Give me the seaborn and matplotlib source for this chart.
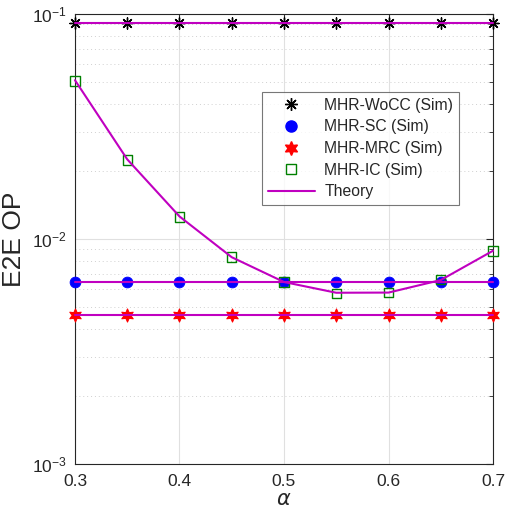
import numpy as np
import pandas as pd
import seaborn as sns
import matplotlib
matplotlib.use("Agg")
import matplotlib.pyplot as plt
from matplotlib.lines import Line2D
from matplotlib.ticker import FixedLocator, FuncFormatter

# alpha values
alpha = [0.3, 0.35, 0.4, 0.45, 0.5, 0.55, 0.6, 0.65, 0.7]

# simulated E2E OP
wocc_sim = [0.091] * 9
sc_sim = [0.00644] * 9
mrc_sim = [0.00459] * 9
ic_sim = [0.0504, 0.02245, 0.01253, 0.00832, 0.00644, 0.00573, 0.00577, 0.0066, 0.00885]

# theory curves
wocc_th = [0.091] * 9
sc_th = [0.00644] * 9
mrc_th = [0.00459] * 9
ic_th = [0.0508, 0.0226, 0.0126, 0.0083, 0.00644, 0.00577, 0.00578, 0.00657, 0.00887]

sns.set_style("white")
plt.rcParams['font.family'] = ['Liberation Sans', 'DejaVu Sans']
plt.rcParams['mathtext.fontset'] = 'custom'
plt.rcParams['mathtext.rm'] = 'Liberation Sans'

fig = plt.figure(figsize=(5.15, 5.08), dpi=100)
ax = fig.add_axes([0.1456, 0.0866, 0.8117, 0.8858])

mag = "#C000C0"
sim = pd.DataFrame({"alpha": alpha, "wocc": wocc_sim, "sc": sc_sim, "mrc": mrc_sim, "ic": ic_sim})
th = pd.DataFrame({"alpha": alpha, "wocc": wocc_th, "sc": sc_th, "mrc": mrc_th, "ic": ic_th})

sns.scatterplot(data=sim, x="alpha", y="wocc", ax=ax, marker=(8, 2, 0), s=65,
                color="black", linewidth=1.0, zorder=3)
sns.scatterplot(data=sim, x="alpha", y="sc", ax=ax, marker="o", s=60,
                color="blue", edgecolor="blue", zorder=3)
sns.scatterplot(data=sim, x="alpha", y="mrc", ax=ax, marker=(6, 1, 0), s=90,
                color="red", edgecolor="red", zorder=3)
sns.scatterplot(data=sim, x="alpha", y="ic", ax=ax, marker="s", s=45,
                facecolor="none", edgecolor="#008000", linewidth=1.0, zorder=3)
for col in ["wocc", "sc", "mrc", "ic"]:
    sns.lineplot(data=th, x="alpha", y=col, ax=ax, color=mag, linewidth=1.5, zorder=4)
for c in ax.collections:
    c.set_clip_on(False)
for l in ax.lines:
    l.set_clip_on(False)

ax.set_yscale("log")
ax.set_xlim(0.3, 0.7)
ax.set_ylim(1e-3, 1e-1)
ax.set_xticks([0.3, 0.4, 0.5, 0.6, 0.7])
ax.set_xticklabels(["0.3", "0.4", "0.5", "0.6", "0.7"])
ax.yaxis.set_major_locator(FixedLocator([1e-3, 1e-2, 1e-1]))
ax.yaxis.set_major_formatter(FuncFormatter(
    lambda v, p: r"$\mathregular{10^{%d}}$" % int(round(np.log10(v)))))
ax.tick_params(which="both", direction="in", top=True, right=True, labelsize=12.5,
               colors="#262626")
ax.tick_params(axis="x", which="major", pad=7)
ax.tick_params(axis="y", which="major", pad=6)
ax.tick_params(which="major", length=5)
ax.tick_params(which="minor", length=3)
ax.grid(which="major", color="#e0e0e0", linewidth=0.8, linestyle="-")
ax.grid(which="minor", axis="y", color="#d0d0d0", linewidth=0.7, linestyle=(0, (1, 3)))
ax.set_axisbelow(True)
for sp in ax.spines.values():
    sp.set_color("#262626")
    sp.set_linewidth(0.8)

ax.set_xlabel(r"$\alpha$", fontsize=15, labelpad=1)
ax.set_ylabel("E2E OP", fontsize=19, labelpad=4)

handles = [
    Line2D([], [], color="black", marker=(8, 2, 0), markersize=9, linestyle="none", markeredgewidth=1.0),
    Line2D([], [], color="blue", marker="o", markersize=8, linestyle="none"),
    Line2D([], [], color="red", marker=(6, 1, 0), markersize=10, linestyle="none"),
    Line2D([], [], color="#008000", marker="s", markerfacecolor="none", markersize=7, linestyle="none"),
    Line2D([], [], color=mag, linewidth=1.5),
]
labels = ["MHR-WoCC (Sim)", "MHR-SC (Sim)", "MHR-MRC (Sim)", "MHR-IC (Sim)", "Theory"]
leg = ax.legend(handles, labels, loc="upper left", bbox_to_anchor=(0.448, 0.826),
                fontsize=11.3, frameon=True, fancybox=False, edgecolor="#555555",
                handlelength=3.0, handletextpad=0.6, borderpad=0.35, labelspacing=0.42,
                borderaxespad=0)
leg.get_frame().set_linewidth(0.8)
for t in leg.get_texts():
    t.set_color("#262626")

fig.savefig("out.png", dpi=100)
